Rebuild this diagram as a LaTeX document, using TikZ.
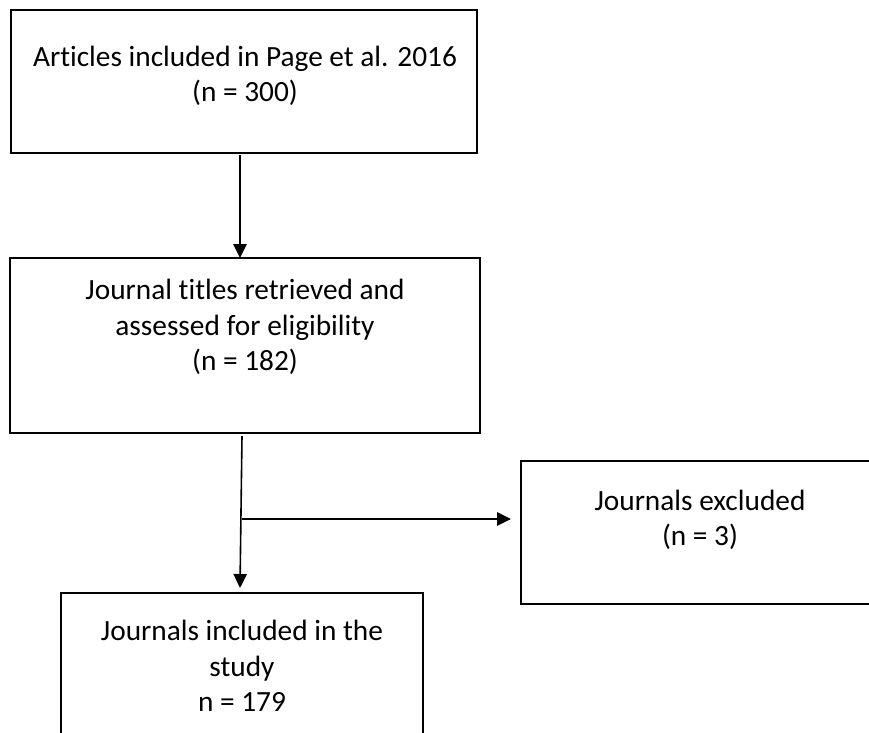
\documentclass[tikz,border=0pt]{standalone}
\usepackage{fontspec}
\setmainfont{Carlito}
\usetikzlibrary{arrows.meta}
\newcommand\tiNL{t\kern0pt i}
\begin{document}
\begin{tikzpicture}[x=0.75pt,y=-0.75pt,
  box/.style={draw=black, line width=1.5pt, inner sep=0pt, fill=none},
  txt/.style={align=center, inner sep=0pt, font=\fontsize{22}{26.5}\selectfont},
  arr/.style={draw=black, line width=1.2pt, -{Triangle[length=10.5pt,width=10pt]}}]
\useasboundingbox (0,0) rectangle (869,733);
\fill[white] (0,0) rectangle (869,733);
% boxes
\node[box, minimum width=466*0.75pt, minimum height=143*0.75pt] (b1) at (244,81.5) {};
\node[box, minimum width=470*0.75pt, minimum height=175*0.75pt] (b2) at (245,345.5) {};
\node[box, minimum width=358*0.75pt, minimum height=143*0.75pt] (b3) at (700,532.5) {};
\node[box, minimum width=362*0.75pt, minimum height=180*0.75pt] (b4) at (242,683) {};
% texts
\node[txt] (t1) at (245,76) {Ar\tiNL cles included in Page et al. 2016\\(n = 300)};
\node[txt] (t2) at (245,327) {Journal \tiNL tles retrieved and\\assessed for eligibility\\(n = 182)};
\node[txt] (t3) at (700,520) {Journals excluded\\(n = 3)};
\node[txt] (t4) at (242,666) {Journals included in the\\study\\n = 179};
% connectors
\coordinate (s1) at (240,155);
\coordinate (e1) at (240,258);
\draw[arr] (s1) -- (e1);
\coordinate (s2) at (242,436);
\coordinate (j) at (241.5,519);
\coordinate (e2) at (240,588);
\coordinate (e3) at (511,519);
\draw[arr] (s2) -- (e2);
\draw[arr] (j) -- (e3);
\end{tikzpicture}
\end{document}
